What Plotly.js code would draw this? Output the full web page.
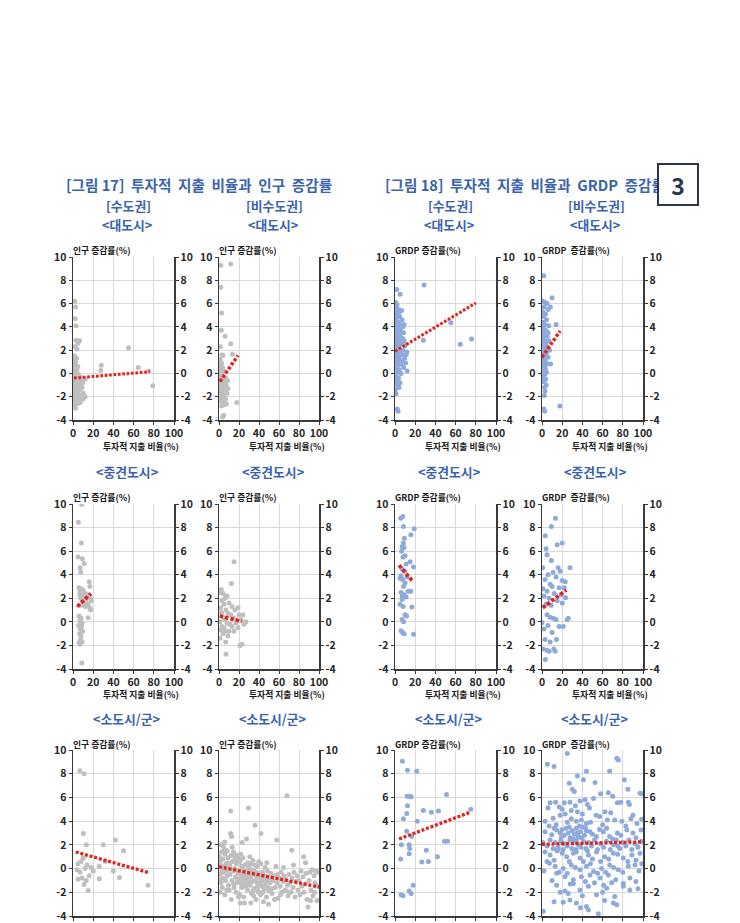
<!DOCTYPE html>
<html>
<head>
<meta charset="utf-8">
<script src="https://cdn.plot.ly/plotly-3.0.1.min.js"></script>
<style>html,body{margin:0;padding:0;background:#fff;}#chart{width:740px;height:923px;}</style>
</head>
<body>
<div id="chart"></div>
<script>
// ---------- DATA ----------
// [x = 투자적 지출 비율(%), y = 증감률(%)]
const popCapLarge = [[1.7,6.2],[2.6,5.7],[2.2,4.7],[3.0,4.1],[3.0,2.85],[6.5,2.8],[5,2.6],[2,2.3],[4,2.1],[55,2.2],[28,0.7],[27.5,0.25],[64.6,0.5],[75,0.2],[79,-1.05],[2.5,-3.0],[10,-2.2],[12,-2.0],
[0.5,1.4],[1.5,1.2],[2.5,1.0],[1,0.8],[3,0.7],[0.8,0.5],[2,0.4],[4,0.3],[1.2,0.1],[3.5,0.0],[5,-0.1],[0.6,-0.2],[2.2,-0.3],[6,-0.4],[1.5,-0.5],[3,-0.6],[8,-0.6],[4.5,-0.7],[0.8,-0.8],[2.5,-0.9],[6.5,-0.9],[1.8,-1.0],[3.8,-1.1],[9,-1.2],[5.5,-1.2],[1,-1.3],[2.8,-1.4],[7,-1.4],[4,-1.5],[0.7,-1.6],[2,-1.7],[5,-1.7],[10,-1.7],[3.2,-1.8],[6,-1.9],[1.4,-2.0],[8,-2.0],[4.2,-2.1],[2.4,-2.2],[5.8,-2.3],[1,-2.4],[3.4,-2.5],[7,-2.5],[2,-2.7],[4.6,-2.6],[11,-1.9],[9.5,-0.8],[7.5,-0.3],[4.8,0.6],[1.6,1.5],[3.6,1.3],[12,-0.5],[0.4,-1.1],[6.8,-2.2]];
const popNonLarge = [[1.7,9.3],[11.7,9.4],[1.7,7.4],[2.7,5.2],[2.3,3.7],[6,3.2],[11.7,2.55],[13.4,1.65],[4,1.55],[17.8,-2.5],[4.7,-3.6],[3.5,-3.75],
[1,1.2],[2.5,0.9],[0.5,0.6],[3.5,0.5],[1.5,0.3],[5,0.2],[2.2,0.0],[0.8,-0.2],[4,-0.3],[6.5,-0.4],[1.6,-0.5],[3,-0.7],[5.5,-0.8],[0.6,-0.9],[2.4,-1.0],[7,-1.0],[4.2,-1.2],[1.2,-1.3],[3.3,-1.5],[6,-1.5],[2,-1.7],[8,-1.7],[4.8,-1.9],[0.9,-2.0],[3,-2.1],[6.5,-2.2],[1.8,-2.4],[4.4,-2.5],[7.5,-2.6],[2.6,-2.8],[5.2,-2.7],[3.8,-0.1],[8.5,-0.6],[9,-1.3],[2.9,1.6],[1.4,2.3]];
const grdpCapLarge = [[1.7,7.2],[5,6.8],[28.8,7.6],[55.3,4.35],[64.6,2.5],[75.8,2.95],[28,2.85],[1,-1.75],[2.3,-3.05],[3,-3.25],[12,0.2],[11.7,1.85],
[0.5,6.1],[2,5.9],[1,5.6],[3.5,5.5],[6.5,5.4],[0.8,5.2],[2.5,5.0],[4.5,4.9],[1.2,4.7],[7,4.6],[3,4.4],[0.6,4.3],[5.5,4.2],[9,4.2],[2,4.0],[4,3.8],[1,3.7],[6,3.6],[8.5,3.5],[2.8,3.4],[0.5,3.3],[4.5,3.2],[1.5,3.0],[7.5,3.0],[3.2,2.9],[5.5,2.8],[0.9,2.7],[2.4,2.5],[6.5,2.5],[10,2.4],[4,2.3],[1.3,2.2],[3,2.0],[8,2.0],[0.6,1.9],[5,1.8],[2,1.7],[6.8,1.6],[3.6,1.5],[1,1.4],[9.5,1.3],[4.5,1.2],[2.6,1.1],[7,1.0],[0.7,0.9],[5.8,0.8],[3.2,0.7],[1.5,0.5],[8.5,0.5],[4.2,0.3],[2.2,0.1],[6,0.0],[0.8,-0.2],[3.5,-0.4],[1.8,-0.6],[5,-0.8],[2.6,-1.0],[4,-1.2],[1.2,-0.9],[0.4,-1.4],[10.5,0.9],[11,1.6],[9,2.8],[7.8,4.0],[3.8,5.2],[5.2,3.4]];
const grdpNonLarge = [[1.7,8.4],[10,6.5],[8.3,5.7],[14,4.2],[17.7,-2.8],[2.3,-1.9],[1.7,-3.05],[2.7,-3.25],
[1,6.2],[3,6.1],[5,6.0],[2,5.7],[6,5.5],[0.6,5.3],[3.5,5.1],[1.5,4.9],[4.5,4.6],[0.8,4.4],[2.5,4.2],[6.5,4.1],[1.2,3.9],[3.8,3.7],[0.5,3.5],[2.2,3.3],[5.2,3.2],[1,3.0],[3,2.8],[7,2.8],[0.7,2.6],[4,2.5],[1.8,2.3],[5.5,2.2],[2.8,2.0],[0.6,1.8],[4.2,1.7],[1.4,1.5],[6,1.4],[2.4,1.2],[3.5,1.0],[0.9,0.9],[5,0.8],[8.5,0.8],[2,0.6],[3.2,0.4],[1.1,0.2],[4.5,0.1],[2.6,-0.1],[0.8,-0.3],[3.6,-0.5],[1.6,-0.7],[4.2,-1.0],[2.4,-1.2],[3,-1.5],[7.5,2.0],[6.2,3.5]];
const popCapMid = [[8.7,9.95],[5.3,8.45],[8.3,6.7],[5,5.5],[9.3,5.35],[11,4.95],[7,4.6],[7.7,4.2],[16,3.4],[16.7,3.0],
[6,2.9],[8,2.8],[10,2.7],[7,2.6],[9,2.5],[12,2.4],[6.5,2.3],[14,2.3],[8.5,2.2],[11,2.1],[17,2.1],[7.5,2.0],[13,1.9],[18,1.8],[9.5,1.8],[10.5,1.6],[15,1.5],[8,1.4],[12,1.3],[16.5,1.2],[17.5,1.0],[15,0.35],
[6,0.5],[8,0.3],[7,0.1],[9,-0.1],[5.5,-0.3],[8.5,-0.4],[7,-0.6],[9.5,-0.8],[6.5,-1.0],[8,-1.2],[7.5,-1.5],[9,-1.7],[6,-1.75],[7,-1.9],[8.7,-3.5]];
const popNonMid = [[15,5.1],[12.4,3.25],[2.3,2.75],[6.7,-1.7],[7,-2.75],[23,-1.9],[27,0],[21,-2.0],
[1,2.5],[4,2.4],[6,2.0],[8,2.2],[3,1.8],[10,1.6],[5,1.5],[13,1.3],[1.5,1.2],[7,1.0],[16,1.0],[19,1.2],[2.5,0.8],[9,0.7],[12,0.6],[20,0.6],[4,0.4],[6,0.2],[15,0.3],[22,0.2],[1,0.0],[8,-0.1],[11,-0.2],[17,-0.1],[25,-0.2],[3,-0.4],[5,-0.5],[13,-0.4],[19,-0.5],[2,-0.7],[7,-0.8],[10,-0.8],[15,-0.8],[4,-1.0],[9,-1.2],[1,-1.4],[24,0.6]];
const grdpCapMid = [[5.7,8.8],[7.7,8.95],[8.3,8.1],[19,7.9],[15.7,7.4],[9.3,7.1],[8.3,6.7],[7,6.4],[9,6.3],[6.5,6.0],[10,5.6],[15,5.1],[18.3,4.65],[8,5.5],[11,4.9],[7,4.5],[9.5,4.3],[6,3.9],[5,3.7],[7.5,3.6],[10,3.3],[12,3.8],[8.5,3.0],[15.7,2.6],[6,2.5],[9,2.3],[11,2.1],[7,1.9],[5,1.5],[8,1.3],[16.7,1.25],[10,0.6],[11.5,0.5],[7,0.2],[8.5,0.0],[6,-0.75],[7.5,-0.9],[9,-1.0],[18.3,-1.05],[13,2.6],[7.2,2.2]];
const grdpNonMid = [[13.3,8.8],[9.3,8.1],[3.3,7.3],[20,6.7],[15,6.55],[4,6.2],[5,5.7],[9.3,5.2],[27.7,4.6],[0.7,4.6],[16,4.6],[18,4.3],[11,4.2],[6,4.0],[14,3.8],[3,3.6],[20,3.5],[8,3.2],[23,3.4],[10,3.0],[1,2.8],[17,2.9],[5,2.6],[12,2.4],[23.3,2.05],[2,2.2],[7,2.0],[15,1.8],[20,1.6],[4,1.5],[9,1.4],[26,0.3],[0,-0.05],[2,-0.6],[3,-1.5],[14.3,-1.5],[5,0.6],[8,0.4],[11,0.3],[14,0.2],[17,-0.4],[21,-0.4],[6,-0.3],[10,-0.9],[3.3,-3.2],[11.7,-2.3],[7,-2.5],[5,-2.4],[8,-1.7],[1,-2.3],[13,-2.5],[25,0.2],[19,2.3],[22,2.9]];
const popCapSmall = [[6.7,8.25],[11,8.0],[10.3,2.95],[13.3,2.0],[30,2.0],[42,2.4],[50,1.5],[26,0.2],[32,0.6],[40,-0.2],[46,-0.75],[26,-0.85],[74.3,-1.4],[15,-1.85],[11,-1.35],[5,0.4],[8,0.6],[4,-0.1],[7,-0.3],[12,0.0],[14,0.3],[9,-0.8],[5,-0.9],[13,-1.0],[16,-0.6],[18,0.1],[10,0.9],[20,-0.2]];
const popNonSmall = [[0.5,1.0],[1.5,0.6],[2.5,1.4],[3,0.2],[4,0.8],[5,-0.3],[6,1.2],[7,0.4],[8,-0.6],[9,0.9],[1,-0.5],[2,-1.2],[3.5,-0.8],[4.5,0.0],[5.5,1.6],[6.5,-1.0],[7.5,-0.2],[8.5,0.5],[9.5,-1.4],[1.2,-2.0],[3.2,-1.6],[5.8,-2.2],[7.8,-1.8],[0.3,0.3],[2.8,-0.2],[4.2,1.9],[6.2,0.1],[8.2,1.5],[9.8,0.2],[5.7,2.25],[0.6,-1.0],[2.2,2.0],
[10.5,0.3],[11,-0.5],[11.7,4.85],[12,1.1],[12.7,2.7],[11.5,2.95],[13,-1.0],[13.5,0.6],[14,-0.2],[14.5,1.4],[15,-1.6],[15.5,0.0],[16,0.9],[16.5,-0.7],[17,-2.0],[17.5,0.4],[18,-1.2],[18.5,1.1],[19,-0.4],[19.5,-2.4],[10.2,-1.8],[12.3,-2.6],[14.8,-1.3],[16.8,0.7],[18.8,-0.9],[19.8,0.8],[13.2,1.8],[15.2,1.2],[17.2,-0.1],[11.2,0.0],
[20.5,-0.3],[21,0.6],[21.5,-1.1],[22,-0.6],[22.5,0.2],[23,-1.6],[23.5,-0.8],[24,0.9],[24.5,-0.2],[25,-1.3],[25.5,-2.9],[26,0.3],[26.5,-0.5],[27,-1.0],[27.5,2.5],[28,-0.2],[28.5,-1.8],[29,-0.7],[29.5,5.1],[30,0.1],[20.8,-2.2],[22.8,-1.3],[24.8,-2.4],[26.8,-1.5],[28.8,0.5],[21.8,1.2],[23.8,0.0],[25.8,-0.9],[27.8,-0.4],[29.8,-1.2],[21.2,-2.9],[23.2,2.2],
[30.5,-0.6],[31,-1.4],[31.5,0.4],[32,-0.9],[32.5,-2.1],[33,-0.3],[33.5,-1.1],[34,0.7],[34.5,-0.5],[35,-1.7],[35.5,-0.2],[36,3.65],[36.5,-1.0],[37,-2.6],[37.5,-0.6],[38,0.2],[38.5,-1.3],[39,-0.8],[39.5,-2.0],[40,-0.4],[31.8,-2.9],[33.8,-1.9],[35.8,0.3],[37.8,-1.6],[39.8,0.6],[30.8,1.0],[32.8,-0.1],[34.8,-2.3],[36.8,-0.3],[38.8,-1.9],
[40.5,-1.2],[41,-0.6],[41.5,-2.2],[42,2.95],[42.5,-0.9],[43,-1.5],[43.5,-0.3],[44,-1.0],[44.5,-2.8],[45,-0.6],[45.5,-1.7],[46,0.1],[46.5,-1.2],[47,-0.7],[47.5,-2.4],[48,-1.0],[48.5,-0.2],[49,-1.6],[49.5,-3.0],[50,-0.8],[41.8,0.4],[43.8,-2.0],[45.8,-1.3],[47.8,0.5],[49.8,-1.9],
[51,-1.2],[52,-0.4],[53,-2.1],[54,-1.0],[55,-0.6],[56,-1.6],[57,0.2],[57.7,2.4],[58,-1.2],[59,-2.5],[60,-0.8],[61,-1.5],[62,-0.3],[63,-2.0],[64,-1.1],[65,-0.6],[66,-1.8],[67,-0.9],[68,6.15],[68.5,-1.4],[69,-2.3],[70,-0.5],[52.5,-1.7],[55.5,-2.6],[58.5,-0.5],[61.5,-2.2],[64.5,0.1],[67.5,-1.9],
[71,-1.2],[72,-2.0],[72.8,1.55],[73,-0.8],[74,-1.6],[75,-0.3],[76,-2.4],[77,-1.1],[78,-0.6],[79,-1.8],[80,-1.0],[81,-2.2],[82,-0.2],[83,-1.5],[84,-0.7],[84.6,1.0],[85,-2.0],[86,-1.3],[87,-0.4],[88,-2.6],[89,-3.25],[90,-1.0],[91,-0.3],[92,-1.8],[93,-0.1],[94,-2.3],[95,-0.6],[96,-1.2],[97,-0.2],[98,-2.7],[99,-1.5],[99.5,-0.3],[74.5,0.3],[86.5,0.5],[91.5,-2.7],[95.5,-2.0]];
const grdpCapSmall = [[7.3,9.05],[12.3,8.3],[21.5,8.2],[12,6.1],[14,6.1],[16,6.05],[12.3,5.3],[11.6,4.65],[8.3,4.2],[22,4.0],[28,4.9],[36,4.75],[43,4.85],[51,6.25],[75,5.0],[11.6,3.15],[16.5,2.7],[14,2.0],[14.5,1.7],[14,1.25],[6.3,2.0],[5.6,0.8],[31,1.55],[26.5,0.55],[33,0.6],[42,1.0],[49,2.3],[52,2.3],[6,-2.2],[8,-2.3],[14,-1.9],[16,-2.1],[18,-1.4]];
const grdpNonSmall = [[5.3,8.8],[11.9,8.6],[25,9.7],[74,9.3],[75.6,9.15],[67,8.2],[44,8.2],[35,7.8],[41,7.5],[27,7.2],[52.5,7.25],[81.5,7.5],[30,6.7],[32,6.5],[85,6.7],[99,6.3],
[8,5.55],[13.5,5.6],[22,5.55],[27.7,5.6],[37.6,5.7],[42.6,5.8],[51,5.9],[58,6.3],[65.7,6.4],[70,6.1],[74.6,5.55],[85.5,5.6],[97,6.35],[6,5.1],[17,5.2],[29,4.9],[35,4.8],[47,5.1],[53.5,4.5],[62.4,4.8],[86.5,5.4],[90,4.5],[20,5.0],[33,5.3],[45,5.4],[78,5.6],[23,4.6],[40,4.6],[68,4.7],
[3,4.0],[11,4.25],[18,4.5],[34,4.0],[39,4.1],[44,3.8],[57,4.4],[64.7,4.1],[72,4.1],[79,4.0],[94,3.8],[98.7,4.15],[14,3.7],[25,3.9],[29,4.2],[37,3.6],[48,3.9],[60,3.7],[83,3.6],[88,4.2],[7,3.6],
[3,3.1],[9.6,2.85],[14.5,3.25],[18,3.0],[20,3.3],[22,2.8],[24,3.4],[26,3.0],[28,2.6],[30,3.2],[32,2.9],[34,3.4],[36,2.7],[38,3.1],[40,3.5],[42,2.8],[44,3.2],[47.5,3.1],[54,2.7],[60.7,3.1],[67,2.7],[74.6,3.0],[84,3.25],[90,3.0],[98,3.25],[19,2.6],[27,3.5],[31,2.5],[35,3.0],[39,2.6],[43,3.4],[50,2.9],[57,3.3],[64,3.4],[70,2.5],[78,2.8],[93,2.6],[12,3.4],
[1,2.2],[5,1.9],[8,2.4],[11,1.7],[13,2.2],[16,1.8],[18.5,2.3],[21,1.6],[23,2.1],[25,1.9],[27.5,2.4],[29.5,1.7],[31.5,2.2],[33.5,1.6],[36,2.0],[38.5,1.8],[41,2.3],[43.5,1.7],[46,2.2],[49,1.9],[52,2.4],[55,1.6],[58,2.1],[61,1.8],[64,2.3],[67.5,1.6],[70.5,2.0],[73.5,2.4],[77,1.7],[80,2.2],[83,1.9],[86,2.4],[89,1.6],[92,2.1],[95,1.8],[98.5,2.3],[20,2.2],[34,2.4],[45,1.5],[75,1.9],[15,1.5],
[3,1.4],[8,1.15],[16,1.6],[24.4,1.0],[31,1.3],[37.6,0.9],[46,1.15],[54,1.4],[62,1.0],[70.6,1.3],[80.5,0.9],[89,1.15],[97,1.3],[12,0.7],[20,1.3],[27,0.6],[34,1.4],[41,0.6],[50,0.8],[58,0.6],[66,0.8],[75,1.2],[85,0.6],[93,0.7],[5,0.6],
[7.3,0.45],[13,0.2],[21,0.0],[29,0.3],[37.6,-0.1],[44,0.2],[51,-0.25],[59,0.0],[67,0.3],[75.6,-0.1],[85.5,0.2],[92,0.3],[98.7,0.4],[2,-0.2],[17,-0.3],[25,-0.4],[33,0.1],[48,0.4],[55,-0.4],[63,-0.3],[71,0.1],[80,-0.3],[96,-0.2],
[14.5,-0.4],[22.8,-0.7],[31,-0.95],[39,-0.7],[47.5,-0.55],[57.4,-0.8],[65.7,-0.55],[73,-0.95],[80.5,-1.25],[87,-0.8],[10,-1.0],[28,-1.3],[43,-1.1],[52,-1.2],[61,-1.4],[69,-1.2],[93,-1.1],
[14.5,-1.4],[22.8,-1.9],[26,-2.1],[31,-1.25],[37.6,-1.8],[46,-1.5],[54,-2.2],[64,-1.65],[72,-2.35],[80.5,-1.5],[87,-1.8],[18,-2.0],[40,-2.3],[60,-2.0],[95,-1.7],
[21,-2.85],[27.7,-2.65],[34,-2.9],[44,-3.2],[46,-3.5],[70.6,-2.9],[74,-3.05],[1.3,-3.6],[55.8,-3.8],[12,-2.8],[38,-3.3],[62,-2.7]];

// trend lines (start, end)
const trendPopCapLargeX = [1, 76],   trendPopCapLargeY = [-0.4, 0.15];
const trendPopNonLargeX = [1, 19],   trendPopNonLargeY = [-0.7, 1.55];
const trendGrdpCapLargeX = [0, 80],  trendGrdpCapLargeY = [1.9, 6.05];
const trendGrdpNonLargeX = [0, 18],  trendGrdpNonLargeY = [1.4, 3.65];
const trendPopCapMidX = [4.3, 17.7], trendPopCapMidY = [1.3, 2.4];
const trendPopNonMidX = [0.7, 23],   trendPopNonMidY = [0.5, 0.03];
const trendGrdpCapMidX = [4, 17],    trendGrdpCapMidY = [4.8, 3.5];
const trendGrdpNonMidX = [0.7, 24],  trendGrdpNonMidY = [1.2, 2.7];
const trendPopCapSmallX = [2.7, 75.3], trendPopCapSmallY = [1.4, -0.35];
const trendPopNonSmallX = [0, 100],  trendPopNonSmallY = [0.15, -1.55];
const trendGrdpCapSmallX = [4, 74.5], trendGrdpCapSmallY = [2.5, 4.75];
const trendGrdpNonSmallX = [0, 100], trendGrdpNonSmallY = [2.05, 2.25];

const xTickVals = [0, 20, 40, 60, 80, 100];
const yTickVals = [-4, -2, 0, 2, 4, 6, 8, 10];

// ---------- LAYOUT ----------
const W = 740, H = 923;
const GRAY = '#bfbfbf', BLUE = '#8eaadb', RED = '#e3231b', TBLUE = '#3b63ad';
const FONT = 'Noto Sans CJK KR';
const colPx = [[73,174],[219,319],[395,496],[542,643]];
const rowPx = [[257,420],[504,669],[750,916]];

const panels = [
  {pts: popCapLarge,  tx: trendPopCapLargeX,  ty: trendPopCapLargeY,  c: GRAY, r:0, k:0, w:3},
  {pts: popNonLarge,  tx: trendPopNonLargeX,  ty: trendPopNonLargeY,  c: GRAY, r:0, k:1, w:3.5},
  {pts: grdpCapLarge, tx: trendGrdpCapLargeX, ty: trendGrdpCapLargeY, c: BLUE, r:0, k:2, w:3},
  {pts: grdpNonLarge, tx: trendGrdpNonLargeX, ty: trendGrdpNonLargeY, c: BLUE, r:0, k:3, w:3.5},
  {pts: popCapMid,    tx: trendPopCapMidX,    ty: trendPopCapMidY,    c: GRAY, r:1, k:0, w:3.8},
  {pts: popNonMid,    tx: trendPopNonMidX,    ty: trendPopNonMidY,    c: GRAY, r:1, k:1, w:3.8},
  {pts: grdpCapMid,   tx: trendGrdpCapMidX,   ty: trendGrdpCapMidY,   c: BLUE, r:1, k:2, w:3.8},
  {pts: grdpNonMid,   tx: trendGrdpNonMidX,   ty: trendGrdpNonMidY,   c: BLUE, r:1, k:3, w:3.8},
  {pts: popCapSmall,  tx: trendPopCapSmallX,  ty: trendPopCapSmallY,  c: GRAY, r:2, k:0, w:3.3},
  {pts: popNonSmall,  tx: trendPopNonSmallX,  ty: trendPopNonSmallY,  c: GRAY, r:2, k:1, w:3.3},
  {pts: grdpCapSmall, tx: trendGrdpCapSmallX, ty: trendGrdpCapSmallY, c: BLUE, r:2, k:2, w:3.3},
  {pts: grdpNonSmall, tx: trendGrdpNonSmallX, ty: trendGrdpNonSmallY, c: BLUE, r:2, k:3, w:3.3}
];

const tickFont = {family: FONT, size: 10.5, color: '#262626', weight: 700};
const AX = '#3a3a3a';
const traces = [];
const layout = {
  width: W, height: H, autosize: false,
  margin: {l:0, r:0, t:0, b:0},
  paper_bgcolor: '#ffffff', plot_bgcolor: 'rgba(0,0,0,0)',
  showlegend: false, annotations: []
};

panels.forEach((p, i) => {
  const n = i + 1, nr = i + 13;
  const xs = p.pts.map(d => d[0]), ys = p.pts.map(d => d[1]);
  traces.push({type:'scatter', mode:'markers', x: xs, y: ys,
    xaxis: 'x' + n, yaxis: 'y' + n, hoverinfo: 'skip',
    marker: {color: p.c, size: 5, line: {width: 0}}});
  traces.push({type:'scatter', mode:'lines', x: p.tx, y: p.ty,
    xaxis: 'x' + n, yaxis: 'y' + nr, hoverinfo: 'skip',
    line: {color: RED, width: p.w, dash: (p.w*0.9).toFixed(1)+'px,'+(p.w*0.55).toFixed(1)+'px'}});
  const xd = [colPx[p.k][0]/W, colPx[p.k][1]/W];
  const yd = [1 - rowPx[p.r][1]/H, 1 - rowPx[p.r][0]/H];
  const common = {showline: true, linecolor: AX, linewidth: 1.5, ticks: 'outside', ticklen: 3,
    tickcolor: AX, tickwidth: 1, tickfont: tickFont, zeroline: false, fixedrange: true};
  layout['xaxis' + n] = Object.assign({}, common, {domain: xd, anchor: 'y' + n, range: [0, 100],
    tickvals: xTickVals, ticktext: xTickVals.map(String), showgrid: true, gridcolor: '#d9d9d9', gridwidth: 1,
    showticklabels: p.r < 2});
  layout['yaxis' + n] = Object.assign({}, common, {domain: yd, anchor: 'x' + n, range: [-4, 10],
    tickvals: yTickVals, ticktext: yTickVals.map(String), showgrid: true, gridcolor: '#d9d9d9', gridwidth: 1});
  layout['yaxis' + nr] = Object.assign({}, common, {overlaying: 'y' + n, anchor: 'x' + n, side: 'right',
    range: [-4, 10], tickvals: yTickVals, ticktext: yTickVals.map(String), showgrid: false});
});

function ann(text, px, py, opts) {
  layout.annotations.push(Object.assign({text: text, x: px/W, y: 1 - py/H, xref: 'paper', yref: 'paper',
    showarrow: false, xanchor: 'center', yanchor: 'middle'}, opts));
}
const titleFont = {family: FONT, size: 14.6, color: TBLUE, weight: 700};
const subFont = {family: FONT, size: 12.8, color: TBLUE, weight: 700};
const axFont = {family: FONT, size: 8.8, color: '#1a1a1a', weight: 700};

ann('[그림 17]  투자적  지출  비율과  인구  증감률', 199, 185, {font: titleFont});
ann('[그림 18]  투자적  지출  비율과  GRDP  증감률', 383, 185, {font: titleFont, xanchor: 'left'});
ann('<b>3</b>', 678, 184.5, {font: {family: FONT, size: 23, color: '#2b3556', weight: 700},
  bgcolor: '#ffffff', bordercolor: '#2b3556', borderwidth: 2, borderpad: 0, width: 38, height: 39});

const regionNames = ['[수도권]', '[비수도권]', '[수도권]', '[비수도권]'];
const regionX = [128, 274, 450, 596];
regionNames.forEach((t, i) => ann(t, regionX[i], 205, {font: subFont}));
const sizeNames = ['<대도시>', '<중견도시>', '<소도시/군>'];
const sizeY = [225, 471, 718];
sizeNames.forEach((t, r) => regionX.forEach(x => ann(t.replace('<','&lt;').replace('>','&gt;'), x - 1, sizeY[r], {font: subFont})));

const yTitleNames = ['인구 증감률(%)', '인구 증감률(%)', 'GRDP 증감률(%)', 'GRDP  증감률(%)'];
const yTitleY = [250, 497, 744];
yTitleY.forEach(py => colPx.forEach((c, k) => ann(yTitleNames[k], c[0] - 2, py, {font: axFont, xanchor: 'left'})));
const xTitle = '투자적 지출 비율(%)';
[446, 694].forEach(py => colPx.forEach(c => ann(xTitle, c[0] + 68, py, {font: axFont})));

Plotly.newPlot('chart', traces, layout, {staticPlot: true, displayModeBar: false});
</script>
</body>
</html>
